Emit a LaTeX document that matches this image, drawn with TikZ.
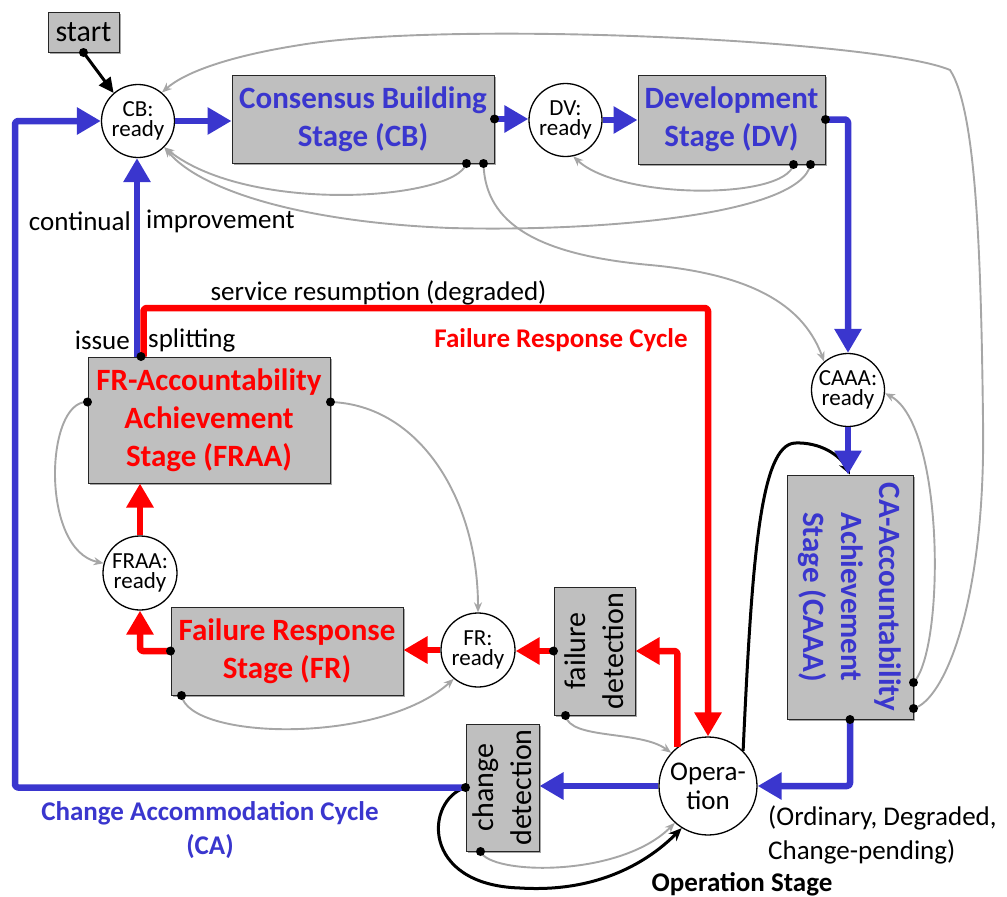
\documentclass[tikz,border=0pt]{standalone}
\usepackage{fontspec}
\setmainfont{Carlito}
\usetikzlibrary{arrows.meta,shadows}
\definecolor{cablue}{RGB}{58,54,206}
\definecolor{boxgray}{RGB}{191,191,191}
\definecolor{arrgray}{RGB}{166,166,166}
\newcommand\fttl{\fontsize{31}{38}\selectfont\bfseries}
\newcommand\flbl{\fontsize{27}{34}\selectfont}
\newcommand\fblb{\fontsize{27}{34}\selectfont\bfseries}
\newcommand\fcir{\fontsize{23}{20.5}\selectfont}
\newcommand\fdet{\fontsize{30}{38}\selectfont}
\tikzset{
  box/.style={draw=black!85, line width=1pt, fill=boxgray, inner sep=0pt, align=center,
    drop shadow={shadow xshift=2pt, shadow yshift=-2pt, opacity=0.35, fill=black}},
  st/.style={circle, draw=black, line width=1.3pt, fill=white, inner sep=0pt,
    minimum size=73pt, align=center, font=\fcir},
  bluearr/.style={draw=cablue, line width=6.5pt, line join=round, rounded corners=3pt,
    -{Triangle[width=26pt,length=24pt]}},
  redarr/.style={draw=red, line width=6.5pt, line join=round, rounded corners=3pt,
    -{Triangle[width=26pt,length=24pt]}},
  grayarr/.style={draw=arrgray, line width=1.9pt, -{Stealth[length=10pt,width=8pt]}},
  blkarr/.style={draw=black, line width=3pt, -{Stealth[length=13pt,width=11pt]}},
  lbl/.style={font=\flbl, inner sep=0pt},
  dot/.style={fill=black},
}
\begin{document}
\begin{tikzpicture}[x=1pt,y=-1pt]
\useasboundingbox (0,0) rectangle (1007,897);

% ---------- nodes ----------
\node[box, minimum width=71pt, minimum height=40pt, font=\fontsize{30}{34}\selectfont] (start) at (83.5,32) {start};
\node[st] (cbr) at (138,121) {CB:\\ready};
\node[box, minimum width=262pt, minimum height=88pt, font=\fttl, text=cablue] (cb) at (363,119) {Consensus Building\\Stage (CB)};
\node[st] (dvr) at (565.5,120) {DV:\\ready};
\node[box, minimum width=187pt, minimum height=89pt, font=\fttl, text=cablue] (dv) at (731.5,119.5) {Development\\Stage (DV)};
\node[st] (caaar) at (848,390) {CAAA:\\ready};
\node[box, minimum width=126pt, minimum height=244pt] (caaa) at (850,597) {};
\node[font=\fttl, text=cablue, rotate=-90, align=center] (caaat) at (caaa.center) {CA-Accountability\\Achievement\\Stage (CAAA)};
\node[box, minimum width=242pt, minimum height=126pt, font=\fttl, text=red] (fraa) at (209,420) {FR-Accountability\\Achievement\\Stage (FRAA)};
\node[st, minimum size=74pt] (fraar) at (140,573) {FRAA:\\ready};
\node[box, minimum width=232pt, minimum height=88pt, font=\fttl, text=red] (fr) at (287,651) {Failure Response\\Stage (FR)};
\node[st, minimum size=74pt] (frr) at (478,650) {FR:\\ready};
\node[box, minimum width=81pt, minimum height=128pt] (fdet) at (594.5,651) {};
\node[font=\fdet, rotate=90, align=center] (fdett) at (fdet.center) {failure\\detection};
\node[box, minimum width=73pt, minimum height=127pt] (cdet) at (502.5,787.5) {};
\node[font=\fdet, rotate=90, align=center] (cdett) at (cdet.center) {change\\detection};
\node[st, minimum size=98pt, font=\fontsize{27}{29}\selectfont] (op) at (708,786) {Opera-\\tion};

% ---------- labels ----------
\node[lbl, anchor=east] (l1) at (131,221) {continual};
\node[lbl, anchor=west] (l2) at (146,221) {improvement};
\node[lbl, anchor=east] (l3) at (130,340) {issue};
\node[lbl, anchor=west] (l4) at (148,340) {splitting};
\node[lbl] (l5) at (378.5,293) {service resumption (degraded)};
\node[font=\fblb, text=red, inner sep=0pt] (l6) at (561,340) {Failure Response Cycle};
\node[font=\fblb, text=cablue, align=center, inner sep=0pt] (l7) at (210,830) {Change Accommodation Cycle\\(CA)};
\node[lbl, align=left, anchor=west] (l8) at (768,835) {(Ordinary, Degraded,\\Change-pending)};
\node[font=\fblb, inner sep=0pt] (l9) at (742,884) {Operation Stage};

% ---------- named points ----------
\coordinate (cbd1) at ([xshift=-28pt]cb.south east);
\coordinate (cbd2) at ([xshift=-11pt]cb.south east);
\coordinate (dvd1) at ([xshift=-32pt]dv.south east);
\coordinate (dvd2) at ([xshift=-15pt]dv.south east);
\coordinate (ftop) at ([xshift=-68pt]fraa.north);
\coordinate (fleft) at ([yshift=18pt]fraa.west);
\coordinate (fright) at ([yshift=18pt]fraa.east);
\coordinate (frd) at ([xshift=11pt]fr.south west);
\coordinate (fdetd) at ([xshift=12pt]fdet.south west);
\coordinate (cdetd) at ([xshift=15pt]cdet.south west);
\coordinate (cal) at ([yshift=11pt]caaa.south east);
\coordinate (cau) at ([yshift=37pt]caaa.south east);
\coordinate (bluecorner) at (15,121);
\coordinate (redcorner) at (708,308);

% ---------- gray connectors ----------
\draw[grayarr] (cal) .. controls (945,700) and (986,600) .. (983,420)
  .. controls (981,250) and (976,110) .. (950,70)
  .. controls (880,40) and (450,20) .. (300,45)
  .. controls (230,56) and (185,72) .. (cbr.50);
\draw[grayarr] (cau) .. controls (945,650) and (945,425) .. (caaar.-5);
\draw[grayarr] (cbd1) .. controls (455,200) and (250,215) .. (cbr.-45);
\draw[grayarr] (dvd2) .. controls (800,215) and (600,232) .. (450,228)
  .. controls (300,222) and (200,190) .. (cbr.-45);
\draw[grayarr] (dvd1) .. controls (785,200) and (620,200) .. (dvr.-78);
\draw[grayarr] (cbd2) .. controls (485,225) and (540,255) .. (650,265)
  .. controls (760,275) and (805,310) .. (caaar.130);
\draw[grayarr] (fleft) .. controls (45,400) and (40,550) .. (fraar.165);
\draw[grayarr] (fright) .. controls (420,405) and (478,500) .. (frr.north);
\draw[grayarr] (frd) .. controls (190,740) and (380,745) .. (frr.-130);
\draw[grayarr] (fdetd) .. controls (570,740) and (640,730) .. (op.138);
\draw[grayarr] (cdetd) .. controls (490,875) and (620,878) .. (op.-132);

% ---------- black connectors ----------
\draw[draw=black, line width=3pt, -{Triangle[length=15pt,width=14pt]}] (start.south) -- (cbr.131);
\draw[blkarr] (cdet.west) .. controls (425,800) and (420,885) .. (520,888)
  .. controls (600,893) and (650,860) .. (op.-122);
\draw[blkarr] (op.45) .. controls (752,560) and (760,445) .. (795,443)
  .. controls (820,442) and (840,455) .. (caaa.north);

% ---------- blue cycle ----------
\draw[bluearr] (cdet.west) -| (bluecorner) -- (cbr.west);
\draw[bluearr] (cbr.east) -- (cbr.east -| cb.west);
\draw[bluearr] (cb.east) -- (cb.east -| dvr.west);
\draw[bluearr] (dvr.east) -- (dvr.east -| dv.west);
\draw[bluearr] (dv.east) -| (caaar.north);
\draw[bluearr] (caaar.south) -- (caaar.south |- caaa.north);
\draw[bluearr] (caaa.south) |- (op.east);
\draw[bluearr] (op.west) -- (op.west -| cdet.east);
\draw[bluearr] ([xshift=-4pt]ftop) -- ([xshift=-4pt]ftop |- cbr.south);

% ---------- red cycle ----------
\draw[redarr] ([xshift=2.5pt]ftop) |- (redcorner) -- (redcorner |- op.north);
\draw[redarr] (op.128) |- (fdet.east);
\draw[redarr] (fdet.west) -- (fdet.west -| frr.east);
\draw[redarr] (frr.west) -- (frr.west -| fr.east);
\draw[redarr] (fr.west) -| (fraar.south);
\draw[redarr] (fraar.north) -- (fraar.north |- fraa.south);

% ---------- dots ----------
\foreach \p in {start.south, cb.east, cbd1, cbd2, dv.east, dvd1, dvd2, cal, cau, caaa.south,
  ftop, fleft, fright, fr.west, frd, fdet.west, fdetd, cdet.west, cdetd}
  \fill[dot] (\p) circle (4.5pt);
\end{tikzpicture}
\end{document}
